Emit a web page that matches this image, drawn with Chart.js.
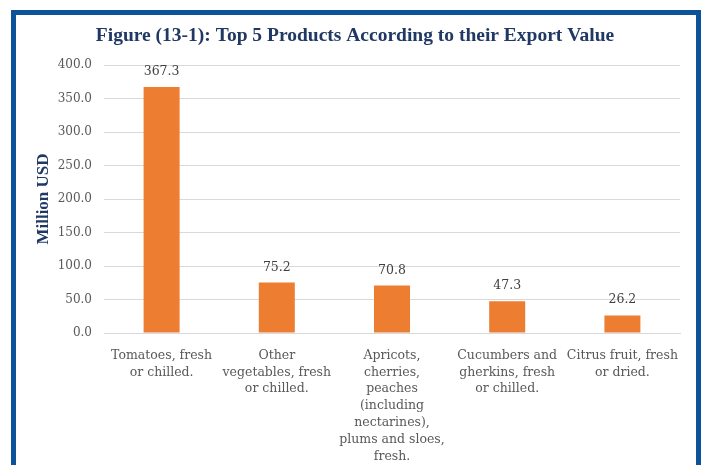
<!DOCTYPE html>
<html>
<head>
<meta charset="utf-8">
<script src="https://cdn.jsdelivr.net/npm/chart.js@4/dist/chart.umd.min.js"></script>
<style>
  body { margin: 0; background: #fff; }
  #wrap { position: relative; width: 702px; height: 465px; overflow: hidden; }
  #frame {
    position: absolute; left: 11px; top: 10px; width: 680px; height: 470px;
    border: 5px solid #0E539A; border-bottom: none; pointer-events: none;
  }
  canvas { position: absolute; left: 0; top: 0; }
</style>
</head>
<body>
<div id="wrap">
  <canvas id="chart" width="702" height="465"></canvas>
  <div id="frame"></div>
</div>
<script>
// chart data
const categories = [
    ["Tomatoes, fresh", "or chilled."],
    ["Other", "vegetables, fresh", "or chilled."],
    ["Apricots,", "cherries,", "peaches", "(including", "nectarines),", "plums and sloes,", "fresh."],
    ["Cucumbers and", "gherkins, fresh", "or chilled."],
    ["Citrus fruit, fresh", "or dried."]
];
const exportValues = [367.3, 75.2, 70.8, 47.3, 26.2];
const yTicks = [0, 50, 100, 150, 200, 250, 300, 350, 400];

const labelFont = "'DejaVu Serif', serif";
const titleFont = "'Liberation Serif', serif";

// values written above each bar
const barValues = {
    id: 'barValues',
    afterDatasetsDraw(chart) {
        const ctx = chart.ctx;
        const meta = chart.getDatasetMeta(0);
        ctx.save();
        ctx.font = "12.5px " + labelFont;
        ctx.fillStyle = '#404040';
        ctx.textAlign = 'center';
        ctx.textBaseline = 'bottom';
        meta.data.forEach((bar, i) => {
            ctx.fillText(exportValues[i].toFixed(1), bar.x, bar.y - 9);
        });
        ctx.restore();
    }
};

new Chart(document.getElementById('chart'), {
    type: 'bar',
    data: {
        labels: categories,
        datasets: [{
            data: exportValues,
            backgroundColor: '#ED7D31',
            categoryPercentage: 1,
            barPercentage: 0.3125
        }]
    },
    options: {
        responsive: false,
        animation: false,
        layout: { padding: { left: 30, right: 22, top: 0, bottom: 0 } },
        plugins: {
            legend: { display: false },
            tooltip: { enabled: false },
            title: {
                display: true,
                text: 'Figure (13-1): Top 5 Products According to their Export Value',
                color: '#1F3864',
                font: { family: titleFont, size: 19.5, weight: 'bold' },
                padding: { top: 24, bottom: 17.6 }
            }
        },
        scales: {
            x: {
                grid: { display: false },
                border: { color: '#D9D9D9' },
                ticks: {
                    color: '#595959',
                    font: { family: labelFont, size: 12.5, lineHeight: 1.35 },
                    padding: 6,
                    maxRotation: 0,
                    autoSkip: false
                },
                afterFit(scale) { scale.height = 132; }
            },
            y: {
                min: 0,
                max: 400,
                afterBuildTicks(scale) { scale.ticks = yTicks.map(v => ({ value: v })); },
                grid: { color: '#D9D9D9', drawTicks: false },
                border: { display: false },
                ticks: {
                    color: '#595959',
                    font: { family: labelFont, size: 12 },
                    padding: 12,
                    callback: v => v.toFixed(1)
                },
                title: {
                    display: true,
                    text: 'Million USD',
                    color: '#1F3864',
                    font: { family: titleFont, size: 17, weight: 'bold' },
                    padding: { top: 3, bottom: 0 }
                },
                afterFit(scale) { scale.width = 74; }
            }
        }
    },
    plugins: [barValues]
});
</script>
</body>
</html>
